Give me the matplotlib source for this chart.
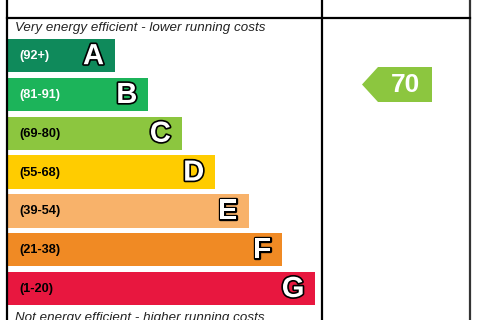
import matplotlib
matplotlib.use('Agg')
import matplotlib.pyplot as plt
import matplotlib.patheffects as pe
from matplotlib.patches import Polygon

# EPC bands
letters = ['A', 'B', 'C', 'D', 'E', 'F', 'G']
ranges = ['(92+)', '(81-91)', '(69-80)', '(55-68)', '(39-54)', '(21-38)', '(1-20)']
colors = ['#0f8a5b', '#1cb45a', '#8cc63f', '#ffcc00', '#f8b26a', '#f08a24', '#e8173f']
label_colors = ['white', 'white', 'black', 'black', 'black', 'black', 'black']
current_rating = 70
current_color = '#8cc63f'

plt.rcParams['font.family'] = ['Liberation Sans', 'DejaVu Sans']

fig = plt.figure(figsize=(4.8, 3.2), dpi=100)
ax = fig.add_axes([0, 0, 1, 1])
ax.set_xlim(0, 480)
ax.set_ylim(320, 0)
ax.axis('off')

# bars
x0 = 8
tops = [39 + 38.8 * i for i in range(len(letters))]
widths = [107 + 33.4 * i for i in range(len(letters))]
centers = [t + 16.7 for t in tops]
ax.barh(centers, widths, height=33.5, left=x0, color=colors)

for i, letter in enumerate(letters):
    ax.text(x0 + 11, centers[i] + 0.5, ranges[i], ha='left', va='center',
            fontsize=9.2, fontweight='bold', color=label_colors[i])
    t = ax.text(x0 + widths[i] - 11, centers[i] + 0.5, letter, ha='right', va='center',
                fontsize=21, fontweight='bold', color='white')
    t.set_path_effects([pe.Stroke(linewidth=2.4, foreground='black'), pe.Normal()])

# frame lines
lw = 1.6
ax.plot([7, 7], [0, 320], color='black', lw=lw)
ax.plot([322, 322], [0, 320], color='black', lw=lw)
ax.plot([470, 470], [0, 320], color='#333333', lw=lw)
ax.plot([7, 470], [18, 18], color='black', lw=lw)

ax.text(15, 28.5, 'Very energy efficient - lower running costs', ha='left', va='center',
        fontsize=9.6, style='italic', color='#222222')
ax.text(15, 317.5, 'Not energy efficient - higher running costs', ha='left', va='center',
        fontsize=9.6, style='italic', color='#222222')

# current rating arrow
ay, ah = 84.5, 35
arrow = Polygon([(362, ay), (378, ay - ah / 2), (432, ay - ah / 2),
                 (432, ay + ah / 2), (378, ay + ah / 2)], closed=True,
                color=current_color, lw=0)
ax.add_patch(arrow)
ax.text(405, ay + 0.5, str(current_rating), ha='center', va='center',
        fontsize=19, fontweight='bold', color='white')

fig.savefig('out.png', dpi=100)
plt.close(fig)
